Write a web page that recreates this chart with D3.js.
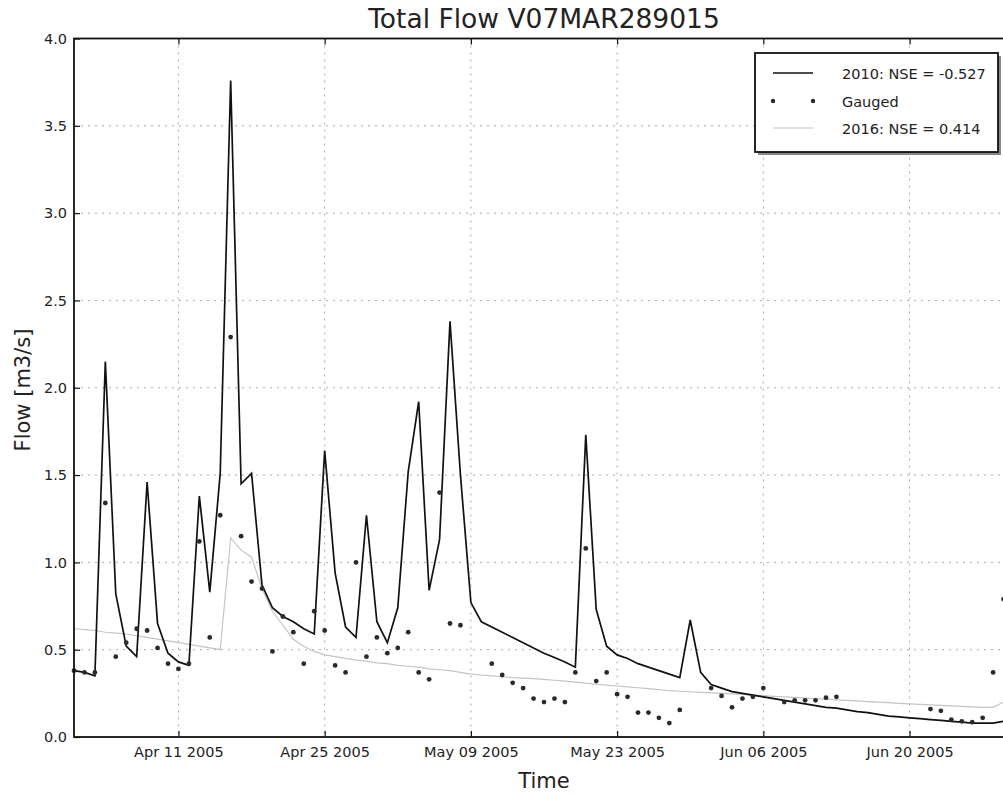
<!DOCTYPE html>
<html>
<head>
<meta charset="utf-8">
<script src="https://cdn.jsdelivr.net/npm/d3@7"></script>
<style>
  body { margin: 0; background: #fff; }
  text { font-family: "DejaVu Sans", sans-serif; }
</style>
</head>
<body>
<div id="chart-area"></div>
<script>
// daily series, starting 1 Apr 2005
const startDate = new Date(Date.UTC(2005, 3, 1));
const endDate = new Date(Date.UTC(2005, 5, 30));

const flow2010 = [
  0.38, 0.37, 0.35, 2.15, 0.82, 0.52, 0.46, 1.46, 0.65, 0.48,
  0.43, 0.41, 1.38, 0.83, 1.51, 3.76, 1.45, 1.51, 0.87, 0.74,
  0.69, 0.66, 0.62, 0.59, 1.64, 0.94, 0.63, 0.57, 1.27, 0.66,
  0.54, 0.74, 1.52, 1.92, 0.84, 1.13, 2.38, 1.50, 0.77, 0.66,
  0.63, 0.60, 0.57, 0.54, 0.51, 0.48, 0.455, 0.43, 0.40, 1.73,
  0.73, 0.52, 0.47, 0.45, 0.42, 0.40, 0.38, 0.36, 0.34, 0.67,
  0.37, 0.30, 0.28, 0.26, 0.25, 0.24, 0.23, 0.22, 0.21, 0.20,
  0.19, 0.18, 0.17, 0.165, 0.155, 0.145, 0.14, 0.13, 0.12, 0.115,
  0.11, 0.105, 0.10, 0.095, 0.09, 0.085, 0.08, 0.08, 0.08, 0.09
];

const flow2016 = [
  0.62, 0.615, 0.61, 0.60, 0.595, 0.59, 0.58, 0.57, 0.56, 0.55,
  0.54, 0.53, 0.52, 0.51, 0.50, 1.14, 1.07, 1.03, 0.85, 0.72,
  0.64, 0.56, 0.52, 0.49, 0.47, 0.46, 0.45, 0.44, 0.435, 0.425,
  0.42, 0.41, 0.405, 0.40, 0.39, 0.385, 0.38, 0.37, 0.36, 0.355,
  0.35, 0.345, 0.34, 0.337, 0.334, 0.33, 0.325, 0.32, 0.314, 0.308,
  0.302, 0.297, 0.292, 0.287, 0.282, 0.277, 0.271, 0.265, 0.262, 0.259,
  0.256, 0.253, 0.25, 0.247, 0.244, 0.24, 0.237, 0.233, 0.23, 0.227,
  0.223, 0.22, 0.217, 0.213, 0.21, 0.207, 0.203, 0.20, 0.197, 0.193,
  0.19, 0.187, 0.184, 0.181, 0.178, 0.175, 0.172, 0.17, 0.17, 0.20
];

const gauged = [
  0.38, 0.37, 0.37, 1.34, 0.46, 0.54, 0.62, 0.61, 0.51, 0.42,
  0.39, 0.42, 1.12, 0.57, 1.27, 2.29, 1.15, 0.89, 0.85, 0.49,
  0.69, 0.60, 0.42, 0.72, 0.61, 0.41, 0.37, 1.00, 0.46, 0.57,
  0.48, 0.51, 0.60, 0.37, 0.33, 1.40, 0.65, 0.64, null, null,
  0.42, 0.355, 0.31, 0.28, 0.22, 0.20, 0.22, 0.20, 0.37, 1.08,
  0.32, 0.37, 0.245, 0.23, 0.14, 0.14, 0.11, 0.08, 0.155, null,
  null, 0.28, 0.235, 0.17, 0.22, 0.23, 0.28, null, 0.20, 0.21,
  0.21, 0.21, 0.225, 0.23, null, null, null, null, null, null,
  null, null, 0.16, 0.15, 0.10, 0.09, 0.085, 0.11, 0.37, 0.79
];

const xTickDates = [
  new Date(Date.UTC(2005, 3, 11)),
  new Date(Date.UTC(2005, 3, 25)),
  new Date(Date.UTC(2005, 4, 9)),
  new Date(Date.UTC(2005, 4, 23)),
  new Date(Date.UTC(2005, 5, 6)),
  new Date(Date.UTC(2005, 5, 20))
];
const yTicks = [0, 0.5, 1.0, 1.5, 2.0, 2.5, 3.0, 3.5, 4.0];

const legendItems = ["2010: NSE = -0.527", "Gauged", "2016: NSE = 0.414"];

const margin = { top: 38.5, right: -11, bottom: 57, left: 74 };
const width = 1003 - margin.left - margin.right;
const height = 794 - margin.top - margin.bottom;

const svg = d3.select("#chart-area")
  .append("svg")
  .attr("width", 1003)
  .attr("height", 794);

const g = svg.append("g")
  .attr("transform", `translate(${margin.left}, ${margin.top})`);

const dates = flow2010.map((v, i) => d3.utcDay.offset(startDate, i));

const x = d3.scaleUtc()
  .domain([startDate, endDate])
  .range([0, width]);

const y = d3.scaleLinear()
  .domain([0, 4])
  .range([height, 0]);

// grid
g.append("g")
  .selectAll("line")
  .data(yTicks.slice(1, -1))
  .enter()
  .append("line")
  .attr("x1", 0)
  .attr("x2", width)
  .attr("y1", d => y(d))
  .attr("y2", d => y(d))
  .attr("stroke", "#aaa")
  .attr("stroke-width", 1)
  .attr("stroke-dasharray", "2,5");

g.append("g")
  .selectAll("line")
  .data(xTickDates)
  .enter()
  .append("line")
  .attr("x1", d => x(d))
  .attr("x2", d => x(d))
  .attr("y1", 0)
  .attr("y2", height)
  .attr("stroke", "#aaa")
  .attr("stroke-width", 1)
  .attr("stroke-dasharray", "2,5");

// series
const flowLine = d3.line()
  .x((d, i) => x(dates[i]))
  .y(d => y(d));

g.append("path")
  .datum(flow2016)
  .attr("fill", "none")
  .attr("stroke", "#c4c4c4")
  .attr("stroke-width", 1.2)
  .attr("d", flowLine);

g.append("path")
  .datum(flow2010)
  .attr("fill", "none")
  .attr("stroke", "#111")
  .attr("stroke-width", 1.7)
  .attr("d", flowLine);

const gaugedPts = gauged
  .map((v, i) => ({ date: dates[i], value: v }))
  .filter(d => d.value !== null);

g.selectAll("circle.gauged")
  .data(gaugedPts)
  .enter()
  .append("circle")
  .attr("class", "gauged")
  .attr("cx", d => x(d.date))
  .attr("cy", d => y(d.value))
  .attr("r", 2.4)
  .attr("fill", "#2a2a2a");

// axes (ticks point inward)
const xAxis = d3.axisBottom(x)
  .tickValues(xTickDates)
  .tickFormat(d3.utcFormat("%b %d %Y"))
  .tickSizeInner(-6)
  .tickSizeOuter(0)
  .tickPadding(10);

const yAxis = d3.axisLeft(y)
  .tickValues(yTicks)
  .tickFormat(d3.format(".1f"))
  .tickSizeInner(-6)
  .tickSizeOuter(0)
  .tickPadding(7);

const xg = g.append("g")
  .attr("transform", `translate(0, ${height})`)
  .call(xAxis);

const yg = g.append("g")
  .call(yAxis);

g.append("g")
  .call(d3.axisTop(x).tickValues(xTickDates).tickSizeInner(-6).tickSizeOuter(0).tickFormat(""));

[xg, yg].forEach(a => {
  a.selectAll("text")
    .attr("font-size", "14.5px")
    .attr("fill", "#222")
    .style("font-family", "DejaVu Sans");
});
g.selectAll(".domain").remove();
g.selectAll(".tick line").attr("stroke", "#111").attr("stroke-width", 1.2);

// spines
g.append("rect")
  .attr("x", 0)
  .attr("y", 0)
  .attr("width", width)
  .attr("height", height)
  .attr("fill", "none")
  .attr("stroke", "#111")
  .attr("stroke-width", 1.8);

// legend
const legend = svg.append("g")
  .attr("transform", "translate(755, 53)");

legend.append("rect")
  .attr("x", 3)
  .attr("y", 3)
  .attr("width", 243)
  .attr("height", 99)
  .attr("fill", "#888");

legend.append("rect")
  .attr("width", 243)
  .attr("height", 99)
  .attr("fill", "#fff")
  .attr("stroke", "#111")
  .attr("stroke-width", 1.8);

legend.append("line")
  .attr("x1", 18).attr("x2", 58)
  .attr("y1", 20).attr("y2", 20)
  .attr("stroke", "#111")
  .attr("stroke-width", 1.7);

legend.selectAll("circle")
  .data([18, 58])
  .enter()
  .append("circle")
  .attr("cx", d => d)
  .attr("cy", 48)
  .attr("r", 2.2)
  .attr("fill", "#2a2a2a");

legend.append("line")
  .attr("x1", 18).attr("x2", 58)
  .attr("y1", 75).attr("y2", 75)
  .attr("stroke", "#c4c4c4")
  .attr("stroke-width", 1.2);

legend.selectAll("text")
  .data(legendItems)
  .enter()
  .append("text")
  .attr("x", 87)
  .attr("y", (d, i) => 26 + i * 27.5)
  .attr("font-size", "14.5px")
  .attr("fill", "#222")
  .text(d => d);

// titles
svg.append("text")
  .attr("x", margin.left + width / 2)
  .attr("y", 28)
  .attr("text-anchor", "middle")
  .attr("font-size", "26.5px")
  .attr("fill", "#222")
  .text("Total Flow V07MAR289015");

svg.append("text")
  .attr("x", margin.left + width / 2)
  .attr("y", 788)
  .attr("text-anchor", "middle")
  .attr("font-size", "21px")
  .attr("fill", "#222")
  .text("Time");

svg.append("text")
  .attr("transform", "rotate(-90)")
  .attr("x", -390)
  .attr("y", 30)
  .attr("text-anchor", "middle")
  .attr("font-size", "21px")
  .attr("fill", "#222")
  .text("Flow [m3/s]");
</script>
</body>
</html>
